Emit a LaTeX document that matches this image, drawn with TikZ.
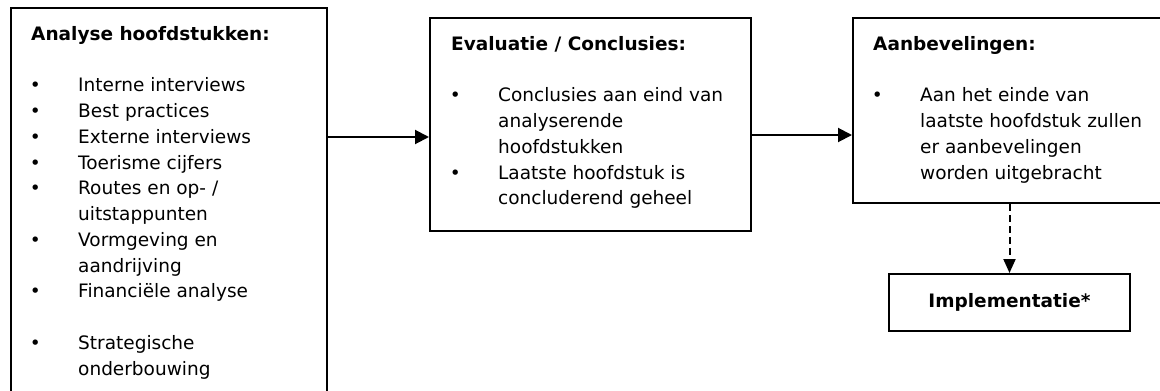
\documentclass[tikz,border=0pt]{standalone}
\usepackage{fontspec}
\setmainfont{DejaVu Sans}
\usetikzlibrary{arrows.meta,positioning}
\newcommand{\bul}{\makebox[47pt][l]{\hspace{-1.3pt}\textbullet}}
\newcommand{\ind}{\hspace*{47pt}}

\begin{document}
\begin{tikzpicture}[x=1pt,y=-1pt,
  box/.style={draw,line width=2pt,inner sep=0pt,anchor=north west},
  txt/.style={anchor=north west,inner sep=0pt,align=left,font=\fontsize{18.5}{25.75}\selectfont},
  arr/.style={line width=2pt,-{Triangle[length=14pt,width=14pt]}}]
  \useasboundingbox (0,0) rectangle (1160,391);
  \clip (0,0) rectangle (1160,391);
  % the four boxes
  \node[box,minimum width=316pt,minimum height=420pt] (analyse) at (10,7) {};
  \node[box,minimum width=321pt,minimum height=213pt] (eval) at (429,17) {};
  \node[box,minimum width=330pt,minimum height=185pt] (aanb) at (852,17) {};
  \node[box,minimum width=241pt,minimum height=57pt,font=\fontsize{18.5}{22}\selectfont\bfseries] (impl) at (888,273) {Implementatie*};
  % box texts
  \node[txt] (analysetxt) at ([xshift=21pt,yshift=-19pt]analyse.north west) {%
    \textbf{Analyse hoofdstukken:}\\[25.75pt]
    \bul Interne interviews\\
    \bul Best practices\\
    \bul Externe interviews\\
    \bul Toerisme cijfers\\
    \bul Routes en op- /\\
    \ind uitstappunten\\
    \bul Vormgeving en\\
    \ind aandrijving\\
    \bul Financiële analyse\\[25.75pt]
    \bul Strategische\\
    \ind onderbouwing};
  \node[txt] (evaltxt) at ([xshift=22pt,yshift=-19pt]eval.north west) {%
    \textbf{Evaluatie / Conclusies:}\\[25.75pt]
    \bul Conclusies aan eind van\\
    \ind analyserende\\
    \ind hoofdstukken\\
    \bul Laatste hoofdstuk is\\
    \ind concluderend geheel};
  \node[txt] (aanbtxt) at ([xshift=21pt,yshift=-19pt]aanb.north west) {%
    \textbf{Aanbevelingen:}\\[25.75pt]
    \bul Aan het einde van\\
    \ind laatste hoofdstuk zullen\\
    \ind er aanbevelingen\\
    \ind worden uitgebracht};
  % connectors
  \draw[arr] (analyse.east |- 0,137) -- (eval.west |- 0,137);
  \draw[arr] (eval.east |- 0,135) -- (aanb.west |- 0,135);
  \draw[arr,dash pattern=on 7pt off 4pt,-{Triangle[length=14pt,width=12pt]}] (impl.north |- aanb.south) -- (impl.north);
\end{tikzpicture}
\end{document}
